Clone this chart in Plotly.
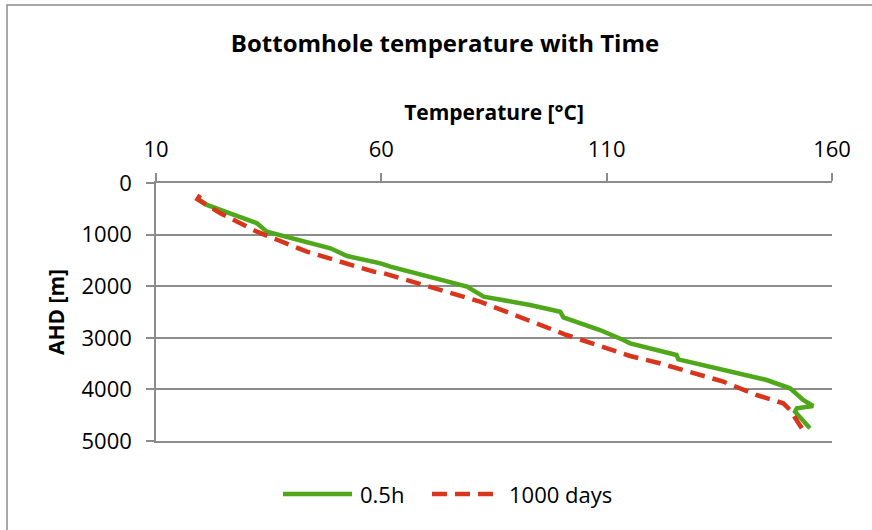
import plotly.graph_objects as go

# Temperature profile after 0.5 h of circulation
temp_05h = [19.1, 21.3, 32.4, 34.6, 48.7, 52.4, 59.8, 62.0, 79.0, 82.7, 93.0, 99.7,
            100.4, 104.1, 108.5, 113.7, 115.2, 125.5, 125.9, 145.5, 150.7, 153.6,
            155.8, 152.2, 151.8, 155.1]
depth_05h = [296, 426, 781, 943, 1266, 1415, 1557, 1622, 2009, 2203, 2364, 2494,
             2603, 2719, 2849, 3043, 3107, 3333, 3417, 3818, 3979, 4203,
             4322, 4367, 4432, 4754]

# Temperature profile after 1000 days
temp_1000d = [19.8, 19.2, 24.3, 32.4, 43.5, 58.3, 60.5, 81.9, 101.1, 115.2, 121.8,
              135.9, 143.3, 149.2, 150.7, 153.3]
depth_1000d = [232, 316, 588, 943, 1331, 1718, 1750, 2300, 2946, 3353, 3494,
               3850, 4109, 4270, 4399, 4754]

x_ticks = [10, 60, 110, 160]
y_ticks = [0, 1000, 2000, 3000, 4000, 5000]

series = [
    dict(name="0.5h", x=temp_05h, y=depth_05h, color="#4FA81A", dash="solid"),
    dict(name="1000 days", x=temp_1000d, y=depth_1000d, color="#D9341C", dash="15px,8px"),
]

FONT = "Open Sans"
FS_TITLE = 24
FS_AXIS = 21
FS_TICK = 22
FS_LEG = 22
GRID = "#8c8c8c"

# plot-area geometry in pixels (used to place the frame and legend keys)
W, H = 872, 530
L, R, T, B = 156, 40, 183, 89
PW, PH = W - L - R, H - T - B


def px_x(p):
    return (p - L) / PW


def px_y(p):
    return (H - B - p) / PH


fig = go.Figure()
for s in series:
    fig.add_trace(go.Scatter(
        x=s["x"], y=s["y"], mode="lines", name=s["name"], showlegend=False,
        line=dict(color=s["color"], width=4.5, dash=s["dash"]),
    ))

# legend row below the plot: long line keys followed by labels
key_spans = [(283, 352, 358), (432, 495, 507)]
legend_y = px_y(494)
shapes = [dict(type="rect", xref="paper", yref="paper",
               x0=px_x(7), x1=1.2, y0=-0.5, y1=px_y(5),
               line=dict(color=GRID, width=1.5), fillcolor="rgba(0,0,0,0)",
               layer="below")]
annotations = []
for s, (k0, k1, tx) in zip(series, key_spans):
    shapes.append(dict(type="line", xref="paper", yref="paper",
                       x0=px_x(k0), x1=px_x(k1), y0=legend_y, y1=legend_y,
                       line=dict(color=s["color"], width=4.5,
                                 dash="15px,8px" if s["dash"] != "solid" else "solid")))
    annotations.append(dict(text=s["name"], xref="paper", yref="paper",
                            x=px_x(tx), y=legend_y, xanchor="left", yanchor="middle",
                            showarrow=False, font=dict(family=FONT, size=FS_LEG, color="#000")))

fig.update_layout(
    width=W, height=H,
    margin=dict(l=L, r=R, t=T, b=B),
    paper_bgcolor="white", plot_bgcolor="white",
    font=dict(family=FONT, size=FS_TICK, color="#000000"),
    title=dict(text="<b>Bottomhole temperature with Time</b>",
               x=445 / W, xref="container", xanchor="center",
               y=1 - 44 / H, yref="container", yanchor="middle",
               font=dict(family=FONT, size=FS_TITLE)),
    showlegend=False,
    xaxis=dict(
        side="top", range=[10, 160], tickvals=x_ticks,
        showgrid=False, zeroline=False,
        showline=True, mirror=True, linecolor=GRID, linewidth=1.5,
        ticks="outside", ticklen=8, tickcolor=GRID, tickwidth=1.5,
        ticklabelstandoff=7, tickfont=dict(size=FS_TICK),
        title=dict(text="<b>Temperature [°C]</b>", font=dict(size=FS_AXIS), standoff=7),
    ),
    yaxis=dict(
        range=[5000, 0], tickvals=y_ticks,
        showgrid=True, gridcolor=GRID, gridwidth=1.5, zeroline=False,
        showline=True, linecolor=GRID, linewidth=1.5,
        ticks="outside", ticklen=8, tickcolor=GRID, tickwidth=1.5,
        ticklabelstandoff=10, tickfont=dict(size=FS_TICK),
        title=dict(text="<b>AHD [m]</b>", font=dict(size=FS_AXIS), standoff=11),
    ),
    shapes=shapes,
    annotations=annotations,
)

fig.write_html("out.html")
